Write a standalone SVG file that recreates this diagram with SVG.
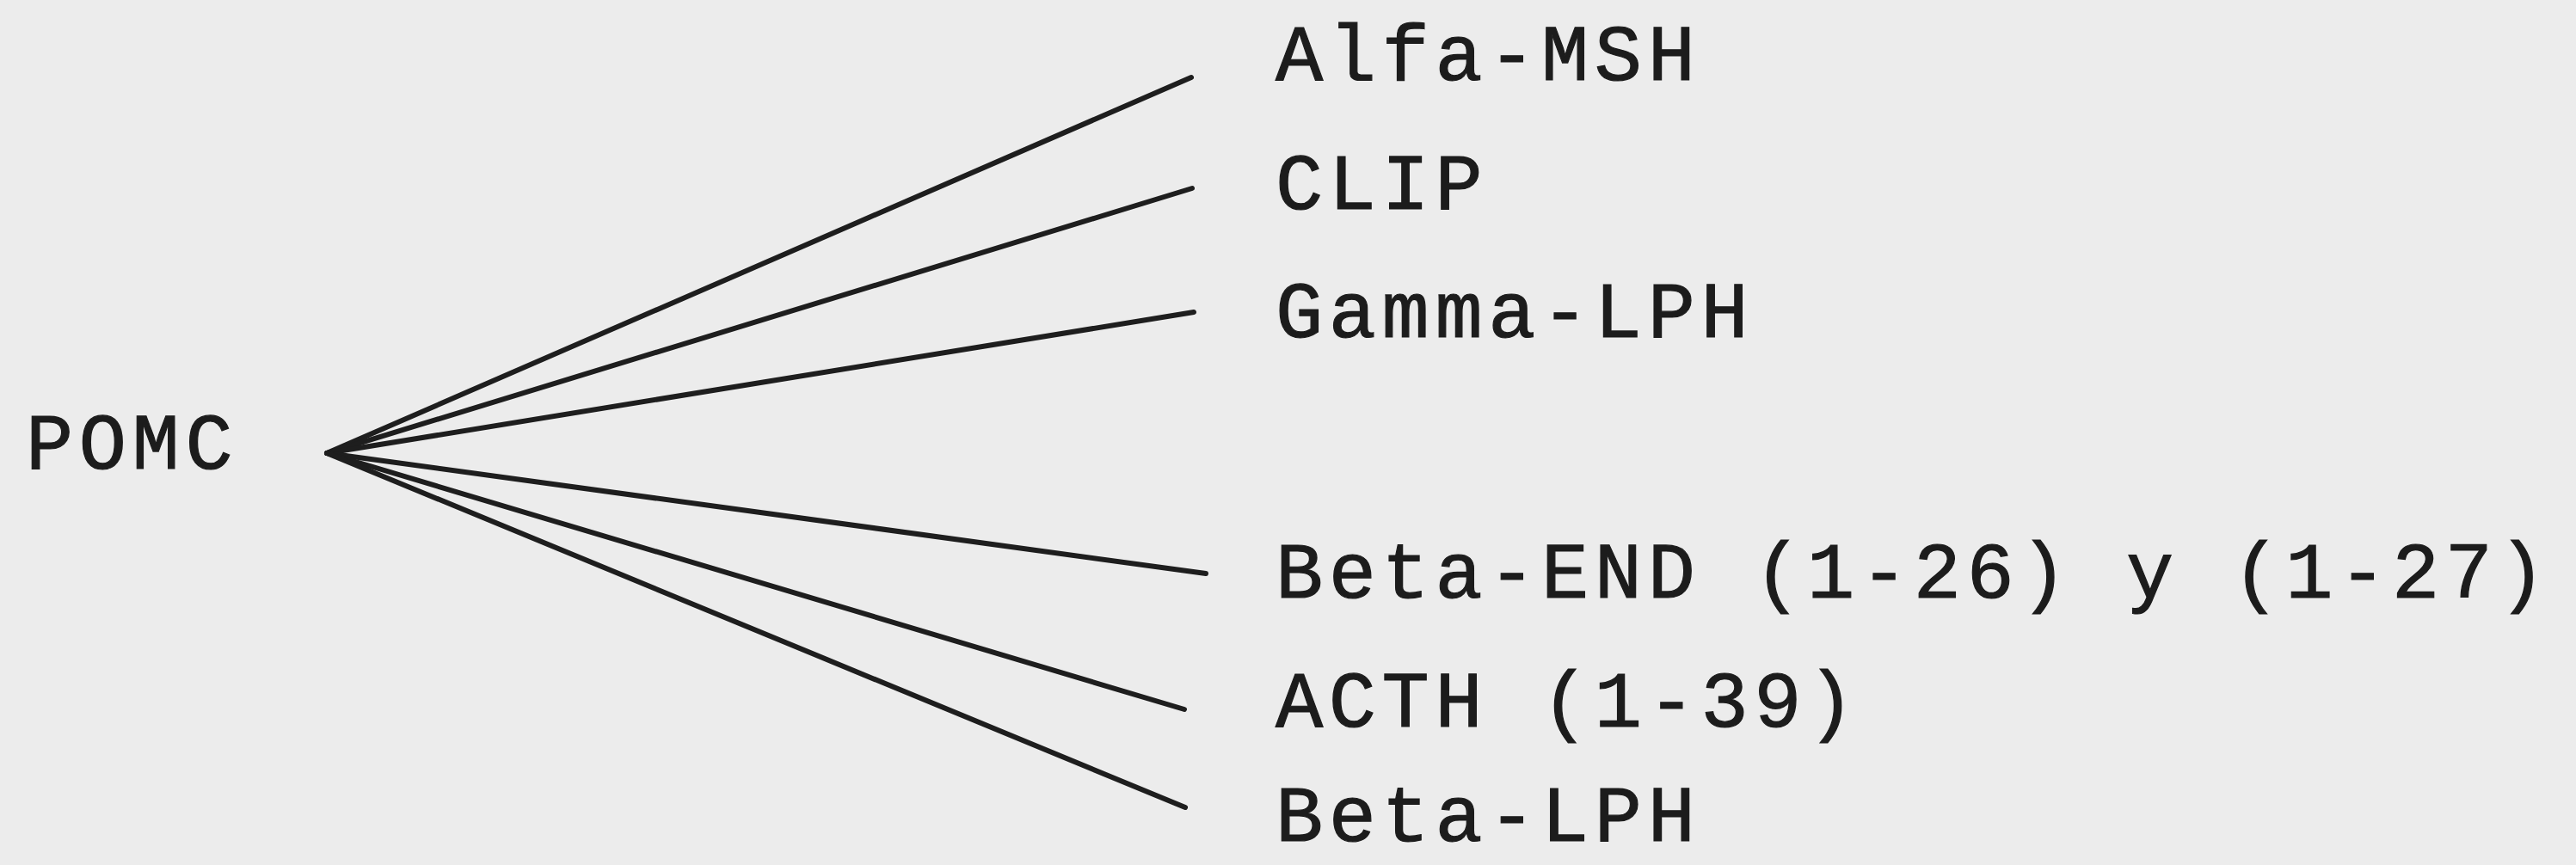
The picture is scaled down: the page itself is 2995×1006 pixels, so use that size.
<svg xmlns="http://www.w3.org/2000/svg" width="2995" height="1006" viewBox="0 0 2995 1006">
<style>
.lbl{font-family:"Liberation Mono","DejaVu Sans Mono",monospace;font-size:92px;letter-spacing:6.6px;fill:#1c1c1c;stroke:#1c1c1c;stroke-width:1.2px}
.edge{stroke:#1e1e1e;stroke-width:6;stroke-linecap:round;fill:none}
</style>
<rect x="0" y="0" width="2995" height="1006" fill="#ececec"/>
<g id="connectors">
<line class="edge" x1="380" y1="527" x2="1385" y2="90"/>
<line class="edge" x1="380" y1="527" x2="1386" y2="219"/>
<line class="edge" x1="380" y1="527" x2="1388" y2="363"/>
<line class="edge" x1="380" y1="527" x2="1402" y2="667"/>
<line class="edge" x1="380" y1="527" x2="1377" y2="825"/>
<line class="edge" x1="380" y1="527" x2="1378" y2="939"/>
</g>
<g id="pomc"><text class="lbl" x="30" y="545">POMC</text></g>
<g id="alfa-msh"><text class="lbl" x="1483" y="93">Alfa-MSH</text></g>
<g id="clip"><text class="lbl" x="1483" y="243">CLIP</text></g>
<g id="gamma-lph"><text class="lbl" x="1483" y="392">Gamma-LPH</text></g>
<g id="beta-end"><text class="lbl" x="1483" y="695">Beta-END (1-26) y (1-27)</text></g>
<g id="acth"><text class="lbl" x="1483" y="845">ACTH (1-39)</text></g>
<g id="beta-lph"><text class="lbl" x="1483" y="978">Beta-LPH</text></g>
</svg>
